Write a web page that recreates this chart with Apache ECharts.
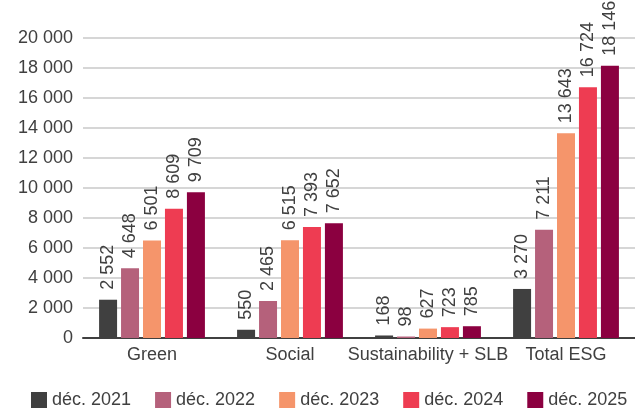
<!DOCTYPE html>
<html>
<head>
<meta charset="utf-8">
<style>
  html, body { margin: 0; padding: 0; background: #ffffff; }
  #chart { width: 635px; height: 409px; }
</style>
<script src="https://cdn.jsdelivr.net/npm/echarts@6/dist/echarts.min.js"></script>
</head>
<body>
<div id="chart"></div>
<script>
// Issuance by bond type, one series per year-end snapshot
const categories = ['Green', 'Social', 'Sustainability + SLB', 'Total ESG'];
const years = ['déc. 2021', 'déc. 2022', 'déc. 2023', 'déc. 2024', 'déc. 2025'];
const dec2021 = [2552, 550, 168, 3270];
const dec2022 = [4648, 2465, 98, 7211];
const dec2023 = [6501, 6515, 627, 13643];
const dec2024 = [8609, 7393, 723, 16724];
const dec2025 = [9709, 7652, 785, 18146];
const colors = ['#404040', '#b5617b', '#f5956b', '#ee3c52', '#8b0040'];

const seriesValues = [dec2021, dec2022, dec2023, dec2024, dec2025];
const fontFamily = '"Liberation Sans", Arial, Helvetica, sans-serif';
const textColor = '#404040';

// French-style thousands grouping: 20000 -> "20 000"
function fmt(v) {
  return String(v).replace(/\B(?=(\d{3})+(?!\d))/g, ' ');
}

const chart = echarts.init(document.getElementById('chart'), null, { renderer: 'canvas' });

chart.setOption({
  animation: false,
  color: colors,
  textStyle: { fontFamily: fontFamily },
  grid: { left: 83, right: 0, top: 38, bottom: 71, containLabel: false },
  legend: {
    data: years,
    left: 31,
    top: 391,
    padding: 0,
    itemWidth: 16,
    itemHeight: 16,
    itemGap: 24,
    icon: 'rect',
    textStyle: { fontSize: 18, color: textColor, fontFamily: fontFamily }
  },
  xAxis: {
    type: 'category',
    data: categories,
    axisTick: { show: false },
    axisLine: { show: true, lineStyle: { color: '#404040', width: 2 } },
    axisLabel: { interval: 0, fontSize: 18, color: textColor, margin: 8, fontFamily: fontFamily }
  },
  yAxis: {
    type: 'value',
    min: 0,
    max: 20000,
    interval: 2000,
    axisLine: { show: false },
    axisTick: { show: false },
    splitLine: { lineStyle: { color: '#c8c8c8', width: 1.5 } },
    axisLabel: {
      fontSize: 18,
      color: textColor,
      margin: 10,
      fontFamily: fontFamily,
      formatter: fmt
    }
  },
  series: years.map((name, i) => ({
    name: name,
    type: 'bar',
    data: seriesValues[i],
    barWidth: 18,
    barGap: '22%',
    itemStyle: { color: colors[i] },
    label: {
      show: true,
      position: 'top',
      rotate: 90,
      align: 'left',
      verticalAlign: 'middle',
      distance: 10,
      fontSize: 18,
      color: textColor,
      fontFamily: fontFamily,
      formatter: p => fmt(p.value)
    }
  }))
});
</script>
</body>
</html>
